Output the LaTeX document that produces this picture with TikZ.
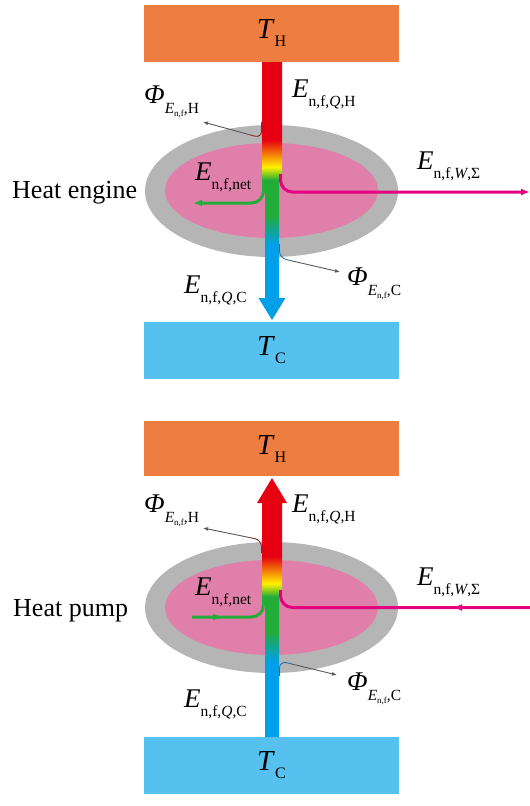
\documentclass[tikz,border=0pt]{standalone}
\usepackage{fontspec}
\setmainfont{Liberation Serif}
\usetikzlibrary{arrows.meta,calc,decorations.markings}

\definecolor{hotbox}{RGB}{237,125,64}
\definecolor{coldbox}{RGB}{86,193,238}
\definecolor{ringgray}{RGB}{181,181,181}
\definecolor{corepink}{RGB}{224,128,170}
\definecolor{barred}{RGB}{230,0,18}
\definecolor{baryellow}{RGB}{255,241,0}
\definecolor{bargreen}{RGB}{34,172,56}
\definecolor{barblue}{RGB}{0,160,233}
\definecolor{workpink}{RGB}{228,0,127}
\definecolor{phigray}{RGB}{90,88,88}
\definecolor{phired}{RGB}{140,40,40}
\definecolor{phiblue}{RGB}{50,110,160}

% colour run of the energy bar, centre of the picture = ellipse centre (150pt)
\pgfdeclareverticalshading{barfill}{30pt}{color(0pt)=(barblue); color(96pt)=(barblue); color(126pt)=(bargreen); color(161pt)=(bargreen); color(174pt)=(baryellow); color(201pt)=(barred); color(300pt)=(barred)}

\newcommand{\Elab}[1]{\textit{E}\raisebox{-9pt}{\fontsize{15.5}{16}\selectfont #1}}
\newcommand{\Philab}[1]{\textit{Φ}\raisebox{-10pt}{\fontsize{15.5}{16}\selectfont\textit{E}\raisebox{-3pt}{\fontsize{9}{9}\selectfont n,f},#1}}
\newcommand{\Tlab}[1]{\textit{T}\raisebox{-8pt}{\fontsize{16}{16}\selectfont #1}}

\begin{document}
\begin{tikzpicture}[x=1pt, y=-1pt,
  hot/.style={fill=hotbox, minimum width=255pt, minimum height=57pt, inner sep=0pt, font=\fontsize{29}{31}\selectfont},
  cold/.style={hot, fill=coldbox},
  lab/.style={inner sep=0pt, anchor=base west, font=\fontsize{27}{29}\selectfont},
  side/.style={inner sep=0pt, anchor=base west, font=\fontsize{26}{28}\selectfont},
  flow/.style={line width=3pt, rounded corners=12pt},
  endtip/.style={-{Latex[length=9pt, width=7pt]}},
  midtip/.style={decoration={markings, mark=at position #1 with {\arrow{Latex[length=9pt, width=7pt]}}}, postaction={decorate}},
  phi/.style={line width=0.9pt, rounded corners=7pt},
  phitip/.style={line width=0.9pt, draw=phigray, -{Latex[length=5pt, width=4pt]}}
]
\useasboundingbox (0,0) rectangle (530,806);

% ---- heat engine
\node[hot] (th1) at (271.5,33.5) {\Tlab{H}};
\node[cold] (tc1) at (271.5,350) {\Tlab{C}};
\fill[ringgray] (271.5,191) ellipse [x radius=126.5, y radius=66];
\fill[corepink] (271.5,190.5) ellipse [x radius=106.5, y radius=47.5];
\begin{scope}
  \clip (262,62) -- (282,62) -- (282,176) -- (279,176) -- (279,298) -- (285.5,298) -- (272,320)
    -- (258.5,298) -- (265,298) -- (265,182) -- (262,182) -- cycle;
  \node[inner sep=0pt] (bar1) at (272,191) {\pgfuseshading{barfill}};
\end{scope}
\coordinate (w1a) at (280.5,174);
\coordinate (w1b) at (280.5,192);
\coordinate (w1c) at (530,192);
\draw[flow, workpink, endtip] (w1a) -- (w1b) -- (w1c);
\coordinate (n1a) at (263.5,180);
\coordinate (n1b) at (263.5,203);
\coordinate (n1c) at (193,203);
\draw[flow, bargreen, endtip] (n1a) -- (n1b) -- (n1c);
\coordinate (h1a) at (261.6,122);
\coordinate (h1b) at (261.6,138);
\coordinate (h1c) at (203,122);
\draw[phi, phired] (h1a) -- (h1b) -- ($(h1b)!12pt!(h1c)$);
\draw[phitip] ($(h1b)!12pt!(h1c)$) -- (h1c);
\coordinate (c1a) at (279.5,244);
\coordinate (c1b) at (279.5,258);
\coordinate (c1c) at (340,272);
\draw[phi, phiblue] (c1a) -- (c1b) -- ($(c1b)!12pt!(c1c)$);
\draw[phitip] ($(c1b)!12pt!(c1c)$) -- (c1c);

\node[side] (engine) at (12,198) {Heat engine};
\node[lab] (qh1) at (292,97) {\Elab{n,f,\textit{Q},H}};
\node[lab] (ph1) at (144,103) {\Philab{H}};
\node[lab] (net1) at (195,180) {\Elab{n,f,net}};
\node[lab] (wk1) at (417,169) {\Elab{n,f,\textit{W},Σ}};
\node[lab] (qc1) at (184,293) {\Elab{n,f,\textit{Q},C}};
\node[lab] (pc1) at (347,285) {\Philab{C}};

% ---- heat pump
\node[hot, minimum height=55pt] (th2) at (271.5,448.5) {\Tlab{H}};
\node[cold] (tc2) at (271.5,765.5) {\Tlab{C}};
\fill[ringgray] (271.5,607.5) ellipse [x radius=126.5, y radius=65.5];
\fill[corepink] (271.5,607.5) ellipse [x radius=106.5, y radius=47.5];
\begin{scope}
  \clip (272,478) -- (287,503) -- (282,503) -- (282,592) -- (279,592) -- (279,737) -- (265,737)
    -- (265,598) -- (262,598) -- (262,503) -- (257,503) -- cycle;
  \node[inner sep=0pt] (bar2) at (272,607.5) {\pgfuseshading{barfill}};
\end{scope}
\coordinate (w2a) at (530,607.5);
\coordinate (w2b) at (280.5,607.5);
\coordinate (w2c) at (280.5,590);
\draw[flow, workpink, midtip=77pt] (w2a) -- (w2b) -- (w2c);
\coordinate (n2a) at (192,617);
\coordinate (n2b) at (263.5,617);
\coordinate (n2c) at (263.5,596);
\draw[flow, bargreen, midtip=30pt] (n2a) -- (n2b) -- (n2c);
\coordinate (h2a) at (261.6,553);
\coordinate (h2b) at (261.6,540);
\coordinate (h2c) at (203,528);
\draw[phi, phired] (h2a) -- (h2b) -- ($(h2b)!12pt!(h2c)$);
\draw[phitip] ($(h2b)!12pt!(h2c)$) -- (h2c);
\coordinate (c2a) at (279.5,676);
\coordinate (c2b) at (279.5,661);
\coordinate (c2c) at (337,675);
\draw[phi, phiblue] (c2a) -- (c2b) -- ($(c2b)!12pt!(c2c)$);
\draw[phitip] ($(c2b)!12pt!(c2c)$) -- (c2c);

\node[side] (pump) at (13,616) {Heat pump};
\node[lab] (qh2) at (292,512) {\Elab{n,f,\textit{Q},H}};
\node[lab] (ph2) at (144,512) {\Philab{H}};
\node[lab] (net2) at (195,595) {\Elab{n,f,net}};
\node[lab] (wk2) at (417,585) {\Elab{n,f,\textit{W},Σ}};
\node[lab] (qc2) at (184,707) {\Elab{n,f,\textit{Q},C}};
\node[lab] (pc2) at (347,690) {\Philab{C}};
\end{tikzpicture}
\end{document}
